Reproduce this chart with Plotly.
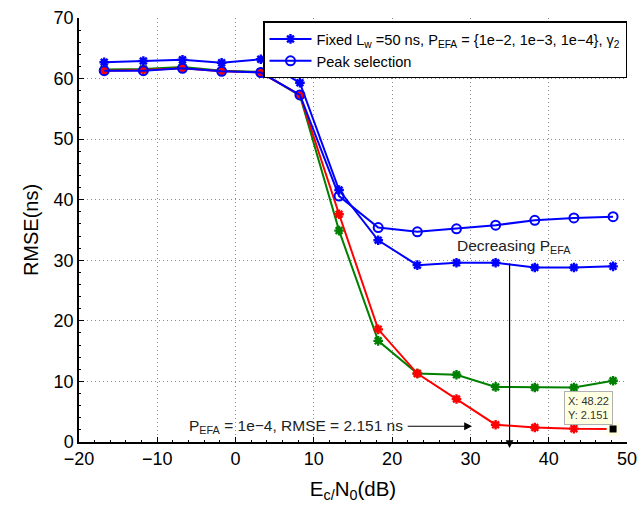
import plotly.graph_objects as go

x = [-16.78, -11.78, -6.78, -1.78, 3.22, 8.22, 13.22, 18.22, 23.22, 28.22, 33.22, 38.22, 43.22, 48.22]
fixed_1e2 = [62.7, 62.9, 63.1, 62.6, 63.2, 59.3, 41.6, 33.3, 29.2, 29.6, 29.6, 28.8, 28.8, 29.0]
fixed_1e3 = [61.5, 61.6, 61.9, 61.3, 61.1, 57.2, 34.9, 16.7, 11.3, 11.1, 9.1, 9.0, 9.0, 10.1]
fixed_1e4 = [61.3, 61.4, 61.7, 61.2, 61.0, 57.3, 37.6, 18.6, 11.3, 7.1, 2.86, 2.4, 2.2, 2.151]
peak_sel = [61.3, 61.3, 61.7, 61.2, 61.0, 57.3, 40.6, 35.4, 34.7, 35.2, 35.8, 36.6, 37.0, 37.2]

tip_x = [48.22]
tip_y = [2.151]

FONT = "Liberation Sans, Arial, Helvetica, sans-serif"

fig = go.Figure()

fig.add_trace(go.Scatter(x=x, y=fixed_1e3, mode="lines+markers", showlegend=False,
                         line=dict(color="#008000", width=2),
                         marker=dict(symbol="asterisk-open", size=8, line=dict(color="#008000", width=2.4))))
fig.add_trace(go.Scatter(x=x, y=fixed_1e4, mode="lines+markers", showlegend=False,
                         line=dict(color="#ff0000", width=2),
                         marker=dict(symbol="asterisk-open", size=8, line=dict(color="#ff0000", width=2.4))))
fig.add_trace(go.Scatter(x=x, y=fixed_1e2, mode="lines+markers",
                         name="Fixed L<sub>w</sub> =50 ns, P<sub>EFA</sub> = {1e\u22122, 1e\u22123, 1e\u22124}, \u03b3<sub>2</sub>",
                         line=dict(color="#0000ff", width=2),
                         marker=dict(symbol="asterisk-open", size=8, line=dict(color="#0000ff", width=2.4))))
fig.add_trace(go.Scatter(x=x, y=peak_sel, mode="lines+markers", name="Peak selection",
                         line=dict(color="#0000ff", width=2),
                         marker=dict(symbol="circle-open", size=9, line=dict(color="#0000ff", width=2))))

# datatip marker
fig.add_trace(go.Scatter(x=tip_x, y=tip_y, mode="markers", showlegend=False,
                         marker=dict(symbol="square", size=13, color="#ffffe1", line=dict(width=0))))
fig.add_trace(go.Scatter(x=tip_x, y=tip_y, mode="markers", showlegend=False,
                         marker=dict(symbol="square", size=7, color="black", line=dict(width=0))))

annotations = [
    dict(x=tip_x[0] - 3.1, y=tip_y[0] + 3.5, xref="x", yref="y", showarrow=False,
         text=f"X: {tip_x[0]}<br>Y: {tip_y[0]}", align="left",
         font=dict(family=FONT, size=11, color="#333333"),
         bgcolor="#ffffe1", bordercolor="#b0b0b0", borderwidth=1, borderpad=3),
    dict(x=28.0, y=32.3, xref="x", yref="y", showarrow=False, xanchor="left", yanchor="middle",
         text="Decreasing P<sub>EFA</sub>", font=dict(family=FONT, size=15.5, color="#222222")),
    dict(x=35.0, y=-0.014, xref="x", yref="paper", showarrow=True, text="",
         ax=0, ay=-186, axref="pixel", ayref="pixel",
         arrowhead=2, arrowsize=1.3, arrowwidth=1.2, arrowcolor="black"),
    dict(x=21.6, y=2.6, xref="x", yref="y", showarrow=False, xanchor="right", yanchor="middle",
         text="P<sub>EFA</sub> = 1e\u22124, RMSE = 2.151 ns", font=dict(family=FONT, size=15.5, color="#222222")),
    dict(x=30.2, y=2.6, xref="x", yref="y", showarrow=True, text="",
         ax=21.8, ay=2.6, axref="x", ayref="y",
         arrowhead=2, arrowsize=1.3, arrowwidth=1.2, arrowcolor="black"),
]

fig.update_layout(
    width=638, height=509,
    margin=dict(l=79, r=11, t=18, b=67, autoexpand=False),
    paper_bgcolor="white", plot_bgcolor="white",
    font=dict(family=FONT, color="black"),
    annotations=annotations,
    legend=dict(x=1.0, y=0.992, xanchor="right", yanchor="top",
                bgcolor="white", bordercolor="black", borderwidth=1.5,
                font=dict(family=FONT, size=14.6, color="black"),
                tracegroupgap=0, itemwidth=42),
)

GRID = dict(showgrid=True, gridcolor="#8c8c8c", griddash="1px,3px", gridwidth=1)

fig.update_xaxes(
    range=[-20, 50], dtick=10, tick0=-20, automargin=False,
    showline=True, linecolor="black", linewidth=1.5, mirror=False,
    ticks="inside", ticklen=5, tickcolor="black",
    minor=dict(ticks="inside", ticklen=2.5, nticks=5, tickcolor="black", showgrid=False),
    zeroline=False,
    tickfont=dict(family=FONT, size=18, color="black"),
    title=dict(text="E<sub>c/</sub>N<sub>0</sub>(dB)", font=dict(family=FONT, size=20.5, color="black"), standoff=13),
    **GRID,
)
fig.update_yaxes(
    range=[0, 70], dtick=10, automargin=False,
    showline=True, linecolor="black", linewidth=1.5, mirror=False,
    ticks="inside", ticklen=5, tickcolor="black",
    minor=dict(ticks="inside", ticklen=2.5, nticks=5, tickcolor="black", showgrid=False),
    zeroline=False,
    tickfont=dict(family=FONT, size=18, color="black"),
    title=dict(text="RMSE(ns)", font=dict(family=FONT, size=20, color="black"), standoff=10),
    **GRID,
)

fig.write_html("out.html")
